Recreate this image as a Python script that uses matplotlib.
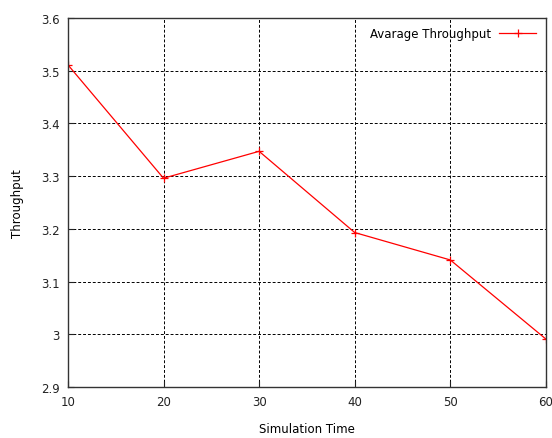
import matplotlib
matplotlib.use("Agg")
import matplotlib.pyplot as plt

sim_time = [10, 20, 30, 40, 50, 60]
throughput = [3.511, 3.296, 3.347, 3.193, 3.141, 2.991]
xticks = [10, 20, 30, 40, 50, 60]
yticks = [2.9, 3.0, 3.1, 3.2, 3.3, 3.4, 3.5, 3.6]
ytick_labels = ["2.9", "3", "3.1", "3.2", "3.3", "3.4", "3.5", "3.6"]

plt.rcParams['font.family'] = ['DejaVu Sans']
fs = 8.5

fig = plt.figure(figsize=(5.52, 4.39), dpi=100)
ax = fig.add_axes([0.123, 0.116, 0.866, 0.841])
ax.plot(sim_time, throughput, color='#ff0000', lw=0.9, marker='+', ms=6, mew=0.9,
        label='Avarage Throughput')
ax.set_xlim(10, 60)
ax.set_ylim(2.9, 3.6)
ax.set_xticks(xticks)
ax.set_yticks(yticks)
ax.set_yticklabels(ytick_labels)
ax.grid(True, color='black', linestyle=(0, (3, 2)), linewidth=0.7)
ax.tick_params(direction='in', length=4, labelsize=fs, colors='#222222', pad=6)
for s in ax.spines.values():
    s.set_linewidth(1.0)
    s.set_color('#333333')
ax.set_xlabel('Simulation Time', fontsize=fs, labelpad=10)
ax.set_ylabel('Throughput', fontsize=fs, labelpad=12)
ax.legend(loc='upper right', frameon=False, markerfirst=False, fontsize=fs,
          handlelength=3.2, borderaxespad=0.4, handletextpad=0.6)
fig.savefig('out.png', dpi=100)
